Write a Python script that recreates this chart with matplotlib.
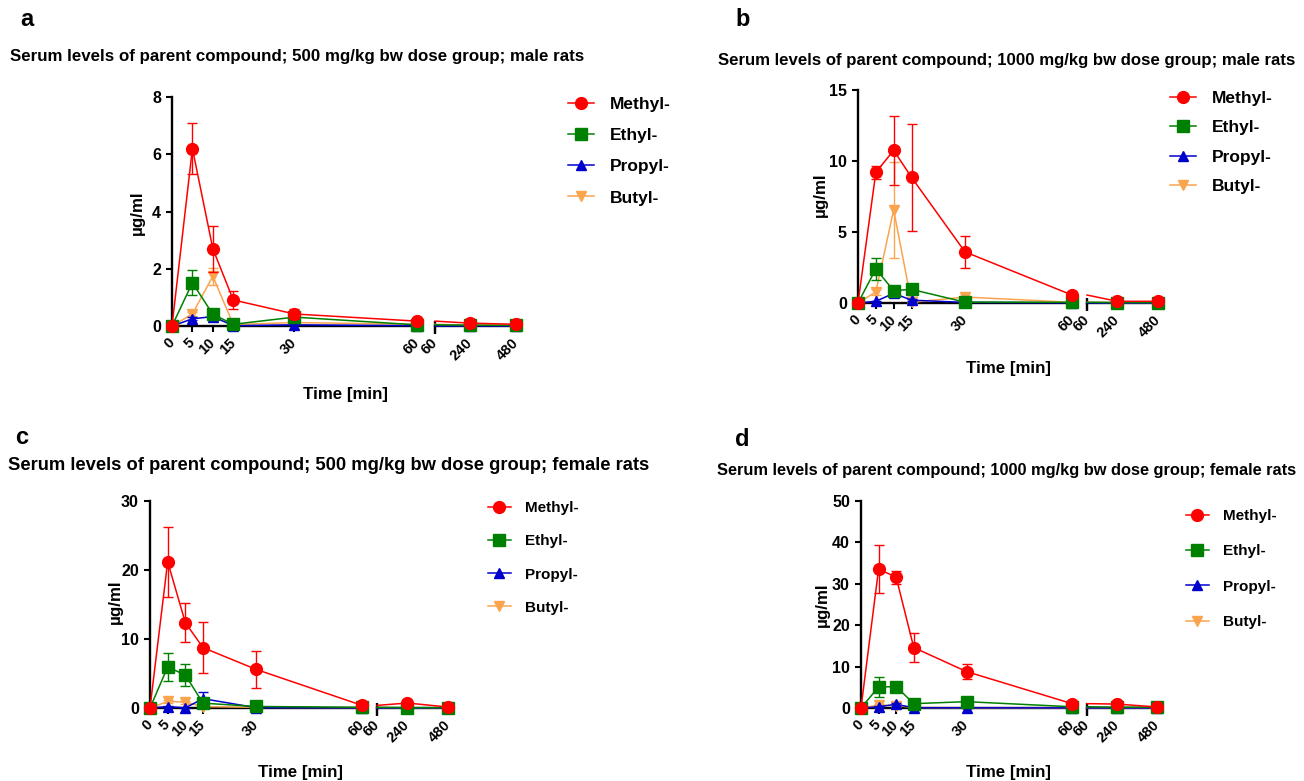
import matplotlib
matplotlib.use('Agg')
import matplotlib.pyplot as plt
from matplotlib.lines import Line2D

plt.rcParams['font.family'] = ['Liberation Sans', 'DejaVu Sans']

tiempos = [0, 5, 10, 15, 30, 60, 240, 480]
ticks_izq = [0, 5, 10, 15, 30, 60]
ticks_der = [60, 240, 480]
compuestos = ['Methyl-', 'Ethyl-', 'Propyl-', 'Butyl-']

# panel a: 500 mg/kg, machos
a_metil = [0, 6.2, 2.7, 0.91, 0.42, 0.17, 0.10, 0.06]
a_metil_sd = [0, 0.9, 0.8, 0.33, 0.18, 0.04, 0.02, 0.02]
a_etil = [0, 1.51, 0.41, 0.06, 0.31, 0.04, 0.03, 0.02]
a_etil_sd = [0, 0.43, 0.08, 0.02, 0.06, 0.01, 0.01, 0.01]
a_propil = [0, 0.25, 0.33, 0.01, 0.04, 0.01, 0.01, 0.01]
a_propil_sd = [0, 0.05, 0.08, 0, 0.02, 0, 0, 0]
a_butil = [0, 0.42, 1.74, 0.05, 0.12, 0.06, 0.03, 0.02]
a_butil_sd = [0, 0.08, 0.3, 0.02, 0.04, 0.01, 0.01, 0.01]

# panel b: 1000 mg/kg, machos
b_metil = [0, 9.2, 10.75, 8.85, 3.6, 0.56, 0.12, 0.12]
b_metil_sd = [0, 0.47, 2.42, 3.75, 1.1, 0.08, 0.03, 0.03]
b_etil = [0, 2.4, 0.87, 0.96, 0.06, 0.05, 0.03, 0.03]
b_etil_sd = [0, 0.8, 0.15, 0.2, 0.02, 0.01, 0.01, 0.01]
b_propil = [0, 0.12, 0.68, 0.2, 0.04, 0.01, 0.01, 0.01]
b_propil_sd = [0, 0.05, 0.2, 0.05, 0.01, 0, 0, 0]
b_butil = [0, 0.78, 6.55, 0.05, 0.42, 0.05, 0.02, 0.02]
b_butil_sd = [0, 0.2, 3.35, 0.02, 0.1, 0.01, 0, 0]

# panel c: 500 mg/kg, hembras
c_metil = [0, 21.2, 12.37, 8.75, 5.6, 0.38, 0.72, 0.14]
c_metil_sd = [0, 5.05, 2.8, 3.72, 2.7, 0.1, 0.15, 0.05]
c_etil = [0, 5.94, 4.78, 0.7, 0.22, 0.1, 0.05, 0.05]
c_etil_sd = [0, 2.03, 1.55, 0.3, 0.05, 0.02, 0.01, 0.01]
c_propil = [0, 0.2, 0.02, 1.35, 0.05, 0.02, 0.01, 0.01]
c_propil_sd = [0, 0.15, 0.02, 0.9, 0.02, 0, 0, 0]
c_butil = [0, 0.95, 0.85, 0.2, 0.1, 0.05, 0.03, 0.03]
c_butil_sd = [0, 0.2, 0.2, 0.05, 0.02, 0.01, 0.01, 0.01]

# panel d: 1000 mg/kg, hembras
d_metil = [0, 33.55, 31.6, 14.6, 8.8, 1.05, 0.95, 0.25]
d_metil_sd = [0, 5.8, 1.6, 3.4, 1.77, 0.2, 0.15, 0.05]
d_etil = [0, 5.08, 5.16, 1.05, 1.53, 0.3, 0.2, 0.2]
d_etil_sd = [0, 2.34, 0.3, 0.2, 0.3, 0.05, 0.03, 0.03]
d_propil = [0, 0.3, 0.9, 0.05, 0.05, 0.02, 0.01, 0.01]
d_propil_sd = [0, 0.2, 0.3, 0.02, 0.02, 0, 0, 0]
d_butil = [0, 0.7, 0.6, 0.1, 0.05, 0.03, 0.02, 0.02]
d_butil_sd = [0, 0.3, 0.3, 0.05, 0.02, 0.01, 0.01, 0.01]

titulos = [
    'Serum levels of parent compound; 500 mg/kg bw dose group; male rats',
    'Serum levels of parent compound; 1000 mg/kg bw dose group; male rats',
    'Serum levels of parent compound; 500 mg/kg bw dose group; female rats',
    'Serum levels of parent compound; 1000 mg/kg bw dose group; female rats',
]
letras = ['a', 'b', 'c', 'd']
yticks = [[0, 2, 4, 6, 8], [0, 5, 10, 15], [0, 10, 20, 30], [0, 10, 20, 30, 40, 50]]

colores = ['#FF0000', '#008000', '#0000CC', '#FBA44E']
marcadores = ['o', 's', '^', 'v']
tam_marc = [8.5, 8, 7.5, 7.5]

W, H = 1304, 781


def fx(x):
    return x / W


def fy(y):
    return 1 - y / H


def dibujar_panel(fig, series, sds, geo, titulo, letra, yt):
    x0, x60, y0, ytop, rx60, rx480 = geo['ejes']
    ymax = yt[-1]
    esc_izq = (x60 - x0) / 60.0
    esc_der = (rx480 - rx60) / 420.0
    alto = y0 - ytop

    # eje izquierdo 0-60 min
    lim_izq = 60.7
    ax = fig.add_axes([fx(x0), fy(y0), (lim_izq * esc_izq) / W, alto / H])
    # eje derecho 60-480 min
    lim_der = 498
    ax2 = fig.add_axes([fx(rx60), fy(y0), ((lim_der - 60) * esc_der) / W, alto / H])

    for a in (ax, ax2):
        a.set_ylim(0, ymax)
        a.spines['top'].set_visible(False)
        a.spines['right'].set_visible(False)
        a.spines['bottom'].set_linewidth(1.7)
        a.spines['left'].set_linewidth(1.7)
        a.tick_params(width=1.5, length=4.5)
        a.tick_params(axis='y', labelsize=11.5)
        a.tick_params(axis='x', labelsize=10.5, pad=6)
        a.set_facecolor('none')
    ax.set_xlim(0, lim_izq)
    ax2.set_xlim(60, lim_der)
    ax2.spines['left'].set_visible(False)
    ax2.set_yticks([])

    ax.set_yticks(yt)
    ax.set_yticklabels([str(v) for v in yt], fontweight='bold')
    ax.set_xticks(ticks_izq)
    ax.set_xticklabels([str(v) for v in ticks_izq], rotation=45, ha='right',
                       va='center', rotation_mode='anchor', fontweight='bold')
    ax2.set_xticks(ticks_der)
    ax2.set_xticklabels([str(v) for v in ticks_der], rotation=45, ha='right',
                        va='center', rotation_mode='anchor', fontweight='bold')

    # marca del corte
    ax2.plot([60, 60], [5.0 / alto, -8.0 / alto], transform=ax2.get_xaxis_transform(),
             color='black', lw=1.7, clip_on=False, solid_capstyle='butt')

    # dibujar de atras hacia adelante (metil arriba)
    for i in [3, 2, 1, 0]:
        y = series[i]
        e = sds[i]
        c = colores[i]
        m = marcadores[i]
        z = 10 - i
        ax.plot(tiempos[:6], y[:6], color=c, lw=1.1, marker=m, ms=tam_marc[i],
                clip_on=False, zorder=z)
        eb = ax.errorbar(tiempos[:6], y[:6], yerr=e[:6], fmt='none', ecolor=c,
                         elinewidth=1, capsize=3.5, capthick=1, zorder=z)
        ax2.plot(tiempos[5:], y[5:], color=c, lw=1.1, clip_on=False, zorder=z)
        ax2.plot(tiempos[6:], y[6:], color=c, lw=0, marker=m, ms=tam_marc[i],
                 clip_on=False, zorder=z)
        eb2 = ax2.errorbar(tiempos[6:], y[6:], yerr=e[6:], fmt='none', ecolor=c,
                           elinewidth=1, capsize=3.5, capthick=1, zorder=z)
        for cont in (eb, eb2):
            for art in cont.lines[1] + cont.lines[2]:
                art.set_clip_on(False)

    # textos
    fig.text(fx(geo['letra'][0]), fy(geo['letra'][1]), letra, fontsize=17,
             fontweight='bold', ha='left', va='center')
    fig.text(fx(geo['titulo'][0]), fy(geo['titulo'][1]), titulo, fontsize=geo['ftit'],
             fontweight='bold', ha='left', va='center')
    fig.text(fx(geo['xlab'][0]), fy(geo['xlab'][1]), 'Time [min]', fontsize=12.2,
             fontweight='bold', ha='center', va='center')
    fig.text(fx(geo['ylab'][0]), fy(geo['ylab'][1]), 'µg/ml', fontsize=12.2,
             fontweight='bold', ha='center', va='center', rotation=90)

    # leyenda
    manijas = [Line2D([], [], color=colores[i], marker=marcadores[i], lw=1.1,
                      ms=tam_marc[i]) for i in range(4)]
    fig.legend(manijas, compuestos, loc='upper left',
               bbox_to_anchor=(fx(geo['ley'][0]), fy(geo['ley'][1])),
               frameon=False, borderpad=0, borderaxespad=0, handlelength=1.5,
               handletextpad=0.9, labelspacing=geo['lsp'],
               prop={'weight': 'bold', 'size': geo['fley']})


geometrias = [
    {'ejes': (172, 417, 326, 97, 435, 516), 'letra': (20, 20), 'titulo': (10, 57),
     'xlab': (345, 395), 'ylab': (137, 213), 'ley': (568, 97), 'lsp': 0.92,
     'fley': 12.5, 'ftit': 12.2},
    {'ejes': (858, 1072, 303, 90, 1087, 1158), 'letra': (735, 20), 'titulo': (718, 61),
     'xlab': (1008, 369), 'ylab': (820, 195), 'ley': (1170, 91), 'lsp': 0.81,
     'fley': 12.5, 'ftit': 12.05},
    {'ejes': (150, 362, 708, 501, 377, 448), 'letra': (15, 438), 'titulo': (8, 466),
     'xlab': (300, 772), 'ylab': (115, 602), 'ley': (488, 501), 'lsp': 1.26,
     'fley': 11, 'ftit': 13.2},
    {'ejes': (861, 1072, 708, 501, 1087, 1157), 'letra': (735, 440), 'titulo': (717, 470),
     'xlab': (1008, 772), 'ylab': (822, 605), 'ley': (1186, 509), 'lsp': 1.4,
     'fley': 11, 'ftit': 11.8},
]

datos = [
    ([a_metil, a_etil, a_propil, a_butil], [a_metil_sd, a_etil_sd, a_propil_sd, a_butil_sd]),
    ([b_metil, b_etil, b_propil, b_butil], [b_metil_sd, b_etil_sd, b_propil_sd, b_butil_sd]),
    ([c_metil, c_etil, c_propil, c_butil], [c_metil_sd, c_etil_sd, c_propil_sd, c_butil_sd]),
    ([d_metil, d_etil, d_propil, d_butil], [d_metil_sd, d_etil_sd, d_propil_sd, d_butil_sd]),
]

fig = plt.figure(figsize=(W / 100, H / 100), dpi=100)
for k in range(4):
    dibujar_panel(fig, datos[k][0], datos[k][1], geometrias[k], titulos[k],
                  letras[k], yticks[k])

fig.savefig('out.png', dpi=100)
